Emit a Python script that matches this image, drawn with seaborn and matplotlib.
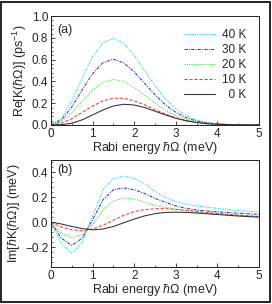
import numpy as np
import pandas as pd
import seaborn as sns
import matplotlib.pyplot as plt
from matplotlib.ticker import MultipleLocator
from matplotlib.lines import Line2D
from matplotlib.patches import Rectangle

# Rabi energy grid (meV)
energy = [0, 0.25, 0.5, 0.75, 1.0, 1.25, 1.5, 1.75, 2.0, 2.25, 2.5,
          2.75, 3.0, 3.25, 3.5, 3.75, 4.0, 4.25, 4.5, 4.75, 5.0]
temps = ["40 K", "30 K", "20 K", "10 K", "0 K"]

# (a) Re[K] (ps^-1)
re_40 = [0, 0.06, 0.22, 0.43, 0.625, 0.755, 0.795, 0.75, 0.64, 0.50, 0.36,
         0.24, 0.148, 0.085, 0.046, 0.023, 0.011, 0.005, 0.002, 0.001, 0]
re_30 = [0, 0.045, 0.165, 0.323, 0.472, 0.572, 0.604, 0.57, 0.488, 0.382, 0.276,
         0.185, 0.115, 0.066, 0.036, 0.018, 0.009, 0.004, 0.002, 0.001, 0]
re_20 = [0, 0.03, 0.111, 0.218, 0.32, 0.392, 0.418, 0.399, 0.345, 0.274, 0.201,
         0.136, 0.086, 0.05, 0.028, 0.014, 0.007, 0.003, 0.001, 0.0005, 0]
re_10 = [0, 0.015, 0.057, 0.115, 0.174, 0.221, 0.246, 0.245, 0.222, 0.184, 0.14,
         0.099, 0.065, 0.04, 0.022, 0.012, 0.006, 0.003, 0.001, 0.0005, 0]
re_0 = [0, 0.002, 0.016, 0.047, 0.092, 0.138, 0.174, 0.19, 0.183, 0.16, 0.126,
        0.092, 0.061, 0.038, 0.022, 0.011, 0.006, 0.003, 0.001, 0.0005, 0]

# (b) Im[hbar K] (meV)
im_40 = [0, -0.17, -0.25, -0.165, 0.05, 0.26, 0.35, 0.37, 0.35, 0.31, 0.245,
         0.20, 0.165, 0.145, 0.13, 0.12, 0.11, 0.10, 0.093, 0.087, 0.081]
im_30 = [0, -0.13, -0.187, -0.13, 0.02, 0.18, 0.26, 0.275, 0.26, 0.23, 0.19,
         0.16, 0.13, 0.11, 0.098, 0.09, 0.083, 0.077, 0.072, 0.067, 0.063]
im_20 = [0, -0.09, -0.128, -0.10, -0.02, 0.10, 0.17, 0.193, 0.185, 0.16, 0.135,
         0.118, 0.105, 0.092, 0.08, 0.072, 0.066, 0.06, 0.055, 0.05, 0.046]
im_10 = [0, -0.04, -0.062, -0.07, -0.055, -0.025, 0.015, 0.055, 0.085, 0.10, 0.108,
         0.108, 0.102, 0.095, 0.086, 0.078, 0.07, 0.063, 0.056, 0.05, 0.045]
im_0 = [0, -0.015, -0.035, -0.052, -0.062, -0.055, -0.035, -0.005, 0.025, 0.05, 0.068,
        0.078, 0.08, 0.078, 0.073, 0.067, 0.061, 0.055, 0.049, 0.044, 0.04]

re_vals = [re_40, re_30, re_20, re_10, re_0]
im_vals = [im_40, im_30, im_20, im_10, im_0]

rows = []
for t, re, im in zip(temps, re_vals, im_vals):
    for e, r, i in zip(energy, re, im):
        rows.append({"E": e, "T": t, "re": r, "im": i})
df = pd.DataFrame(rows)

colors = {"40 K": "#22e0f0", "30 K": "#3030e0", "20 K": "#30e030",
          "10 K": "#ff3030", "0 K": "#303030"}
dashes = {"40 K": (2, 1, 1, 1, 1, 1), "30 K": (3, 1.2, 1, 1.2), "20 K": (1, 1.2),
          "10 K": (3, 1.8), "0 K": ""}
lw = 0.75

sns.set_style("ticks")
plt.rcParams['font.family'] = ['Liberation Sans', 'DejaVu Sans']
plt.rcParams['mathtext.fontset'] = 'custom'
plt.rcParams['mathtext.rm'] = 'Liberation Sans'
plt.rcParams['mathtext.it'] = 'Liberation Sans:italic'
plt.rcParams['font.size'] = 8.5

fig = plt.figure(figsize=(2.72, 3.04), dpi=100)
ax1 = fig.add_axes([0.1875, 0.589, 0.765, 0.358])
ax2 = fig.add_axes([0.1875, 0.122, 0.765, 0.352])

sns.lineplot(data=df, x="E", y="re", hue="T", style="T", hue_order=temps,
             style_order=temps, palette=colors, dashes=dashes, lw=lw,
             legend=False, ax=ax1)
sns.lineplot(data=df, x="E", y="im", hue="T", style="T", hue_order=temps,
             style_order=temps, palette=colors, dashes=dashes, lw=lw,
             legend=False, ax=ax2)

xlabel = "Rabi energy $ħ$Ω (meV)"
ax1.set_xlim(0, 5)
ax1.set_ylim(0, 1.0)
ax1.set_xlabel(xlabel, fontsize=9, labelpad=0)
ax1.set_ylabel("Re[K($ħ$Ω)] (ps$^{-1}$)", fontsize=9, labelpad=2)
ax1.yaxis.set_major_locator(MultipleLocator(0.2))
ax1.yaxis.set_minor_locator(MultipleLocator(0.04))
ax1.text(0.03, 0.93, "(a)", transform=ax1.transAxes, fontsize=9, va="top")

ax2.set_xlim(0, 5)
ax2.set_ylim(-0.36, 0.5)
ax2.set_xlabel(xlabel, fontsize=9, labelpad=0)
ax2.set_ylabel("Im[$ħ$K($ħ$Ω)] (meV)", fontsize=9, labelpad=2)
ax2.set_yticks([-0.2, 0.0, 0.2, 0.4])
ax2.yaxis.set_minor_locator(MultipleLocator(0.04))
ax2.text(0.03, 0.96, "(b)", transform=ax2.transAxes, fontsize=9, va="top")

for ax in (ax1, ax2):
    ax.xaxis.set_major_locator(MultipleLocator(1))
    ax.xaxis.set_minor_locator(MultipleLocator(0.5))
    ax.tick_params(which="both", direction="in", labelsize=8.5, pad=2)
    ax.tick_params(which="major", length=3, width=0.6)
    ax.tick_params(which="minor", length=1.5, width=0.5)
    for s in ax.spines.values():
        s.set_linewidth(0.7)
        s.set_color("#222222")

handles = [Line2D([], [], color=colors[t], lw=lw,
                  dashes=dashes[t] if dashes[t] else (None, None)) for t in temps]
labels = ["40 K", "30 K", "20 K", "10 K", "  0 K"]
ax1.legend(handles, labels, loc="upper right", frameon=False, fontsize=8.5,
           handlelength=2.6, handletextpad=0.6, labelspacing=0.25,
           borderaxespad=0.7)

fig.patches.append(Rectangle((0.004, 0.006), 0.99, 0.988, transform=fig.transFigure,
                             fill=False, lw=1.2, ec="black"))

fig.savefig("out.png", dpi=100)
